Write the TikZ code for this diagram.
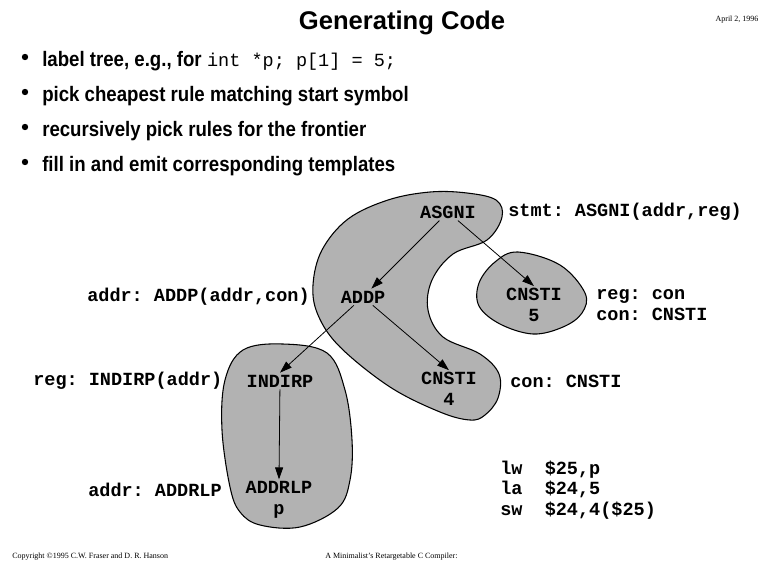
\documentclass[tikz,border=0pt]{standalone}
\usepackage{fontspec}
\setmainfont{Liberation Serif}
\newfontfamily\headfont{Liberation Sans}
\newfontfamily\itemfont{Liberation Sans}[FakeStretch=0.89]
\newfontfamily\codefont{Liberation Mono}
\usetikzlibrary{arrows.meta,positioning}
\frenchspacing

\begin{document}
\begin{tikzpicture}[
    x=0.75pt, y=-0.75pt,
    title/.style={font=\headfont\bfseries\fontsize{19.2}{22}\selectfont, inner sep=0pt},
    item/.style={font=\itemfont\bfseries\fontsize{15.7}{18}\selectfont, anchor=base west, inner sep=0pt},
    dot/.style={circle, fill=black, inner sep=0pt, minimum size=4.8pt},
    op/.style={font=\codefont\bfseries\fontsize{13.9}{15.5}\selectfont, align=center, inner sep=1.5pt},
    rule/.style={font=\codefont\bfseries\fontsize{13.9}{15.5}\selectfont, inner sep=0pt},
    blob/.style={draw=black, fill=black!30, line width=0.8pt},
    arr/.style={-{Triangle[length=9pt,width=6pt]}, line width=0.6pt},
    tiny/.style={font=\fontsize{6}{7}\selectfont, inner sep=0pt}
]
\useasboundingbox (0,0) rectangle (773,567);

% --- Header ---
\node[title, anchor=base] (head) at (402,30) {Generating Code};
\node[tiny] (date) at (737,20) {April 2, 1996};

% --- Bullets ---
\foreach \y/\txt [count=\i] in {
    66/{label tree, e.g., for\hspace{4pt}{\codefont\mdseries\fontsize{13.9}{15.5}\selectfont int *p; p[1] = 5;}},
    101/{pick cheapest rule matching start symbol},
    136/{recursively pick rules for the frontier},
    171/{fill in and emit corresponding templates}} {
  \node[dot] (b\i) at (25,\y-9) {};
  \node[item] (t\i) at (42,\y) {\txt};
}

% --- Covers ---
\draw[blob] plot[smooth cycle, tension=0.6] coordinates {
  (467,193) (496,200) (502,217) (487,240) (453,254) (432,280) (428,310)
  (443,337) (480,354) (499,374) (498,398) (485,415) (470,420) (440,412)
  (390,387) (340,347) (318,315) (313,285) (322,250) (348,219) (388,200)
  (430,192)};
\draw[blob] plot[smooth cycle, tension=0.6] coordinates {
  (518,252) (560,265) (585,293) (582,313) (563,327) (533,334) (500,324)
  (479,306) (479,283) (495,262)};
\draw[blob] plot[smooth cycle, tension=0.6] coordinates {
  (243,350) (283,344) (327,353) (345,390) (352,440) (350,480) (338,508)
  (300,527) (260,525) (240,512) (230,487) (222,430) (225,380)};

% --- Tree ---
\node[op] (asgni) at (448,212) {ASGNI};
\node[op] (addp) at (363,297) {ADDP};
\node[op] (cnst5) at (534,305) {CNSTI\\5};
\node[op] (indirp) at (280,381) {INDIRP};
\node[op] (cnst4) at (449,389) {CNSTI\\4};
\node[op] (addrlp) at (279,500) {ADDRLP\\p};

\draw[arr] (asgni) -- (addp);
\draw[arr] (asgni) -- (cnst5.north);
\draw[arr] (addp) -- (indirp.north);
\draw[arr] (addp) -- (cnst4.north);
\draw[arr] (indirp) -- (addrlp.north);

% --- Rules ---
\node[rule, anchor=west] (r1) at (508,212) {stmt: ASGNI(addr,reg)};
\node[rule, anchor=west] (r2) at (87,297) {addr: ADDP(addr,con)};
\node[rule, anchor=west, align=left] (r3) at (596,305) {reg: con\\con: CNSTI};
\node[rule, anchor=west] (r4) at (33,381) {reg: INDIRP(addr)};
\node[rule, anchor=west] (r5) at (510,381) {con: CNSTI};
\node[rule, anchor=west] (r6) at (88,490) {addr: ADDRLP};

% --- Emitted code ---
\node[rule, anchor=west, align=left] (asm) at (500,490) {lw~~\$25,p\\la~~\$24,5\\sw~~\$24,4(\$25)};

% --- Footer ---
\node[tiny, anchor=west] (copy) at (12,557) {Copyright \textcopyright1995 C.W. Fraser and D. R. Hanson};
\node[tiny, anchor=west] (book) at (325,557) {A Minimalist's Retargetable C Compiler:};
\end{tikzpicture}
\end{document}
